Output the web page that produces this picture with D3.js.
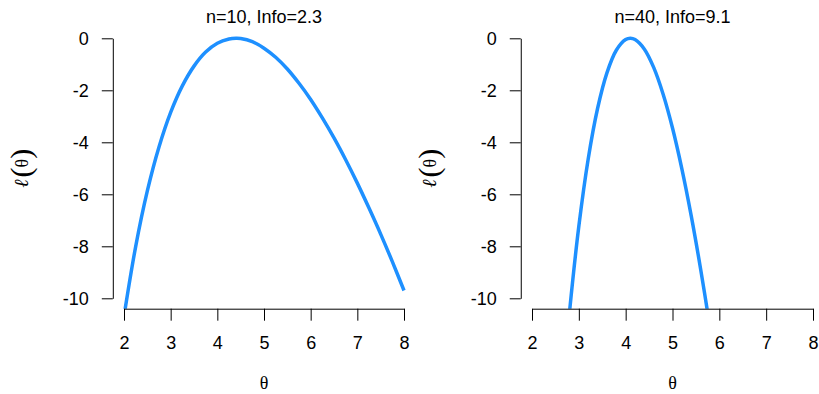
<!DOCTYPE html>
<html>
  <head>
    <meta charset="utf-8">
    <title>Log-likelihood</title>
    <script src="https://cdn.jsdelivr.net/npm/d3@7"></script>
    <style>
      body { margin: 0; background: #fff; }
      text { font-family: "Liberation Sans", Arial, Helvetica, sans-serif; }
      .greek { font-family: "Liberation Serif", "DejaVu Serif", serif; }
    </style>
  </head>

  <body>
    <div id="chart"></div>

    <script>
      // values
      var titles = ["n=10, Info=2.3", "n=40, Info=9.1"];
      var xTicks = [2, 3, 4, 5, 6, 7, 8];
      var yTicks = [0, -2, -4, -6, -8, -10];

      var theta10 = [2, 2.25, 2.5, 2.75, 3, 3.25, 3.5, 3.75, 4, 4.25, 4.4, 4.5, 4.75, 5, 5.25, 5.5, 5.75, 6, 6.25, 6.5, 6.75, 7, 7.25, 7.5, 7.75, 8];
      var loglik10 = [-10.69, -8.01, -5.87, -4.18, -2.85, -1.83, -1.07, -0.53, -0.19, -0.03, 0, -0.01, -0.13, -0.38, -0.73, -1.18, -1.73, -2.35, -3.06, -3.83, -4.67, -5.57, -6.53, -7.53, -8.59, -9.70];

      var theta40 = [2.7, 2.8, 3, 3.2, 3.4, 3.6, 3.8, 4, 4.1, 4.2, 4.4, 4.6, 4.8, 5, 5.2, 5.4, 5.6, 5.8];
      var loglik40 = [-12.51, -10.54, -7.23, -4.64, -2.70, -1.33, -0.46, -0.05, 0, -0.05, -0.42, -1.13, -2.15, -3.45, -5.02, -6.83, -8.87, -11.11];

      var width = 819, height = 394;
      var svg = d3.select("#chart")
        .append("svg")
          .attr("width", width)
          .attr("height", height);

      // panel placement (pixel range of the tick span)
      var panels = [
        { xs: theta10, ys: loglik10, title: titles[0], x0: 124, x1: 404 },
        { xs: theta40, ys: loglik40, title: titles[1], x0: 532, x1: 813 }
      ];

      panels.forEach(function(p, i) {
        var x = d3.scaleLinear().domain([2, 8]).range([p.x0, p.x1]);
        var y = d3.scaleLinear().domain([0, -10]).range([38.3, 298.3]);

        // R style plot region (4% extension)
        var left = x(1.76), right = x(8.24), top = y(0.4), bottom = y(-10.4);

        var g = svg.append("g");

        g.append("clipPath")
            .attr("id", "clip" + i)
          .append("rect")
            .attr("x", left)
            .attr("y", top)
            .attr("width", right - left)
            .attr("height", bottom - top);

        var line = d3.line()
          .x(function(d) { return x(d[0]); })
          .y(function(d) { return y(d[1]); })
          .curve(d3.curveCatmullRom);

        g.append("path")
          .datum(d3.zip(p.xs, p.ys))
          .attr("clip-path", "url(#clip" + i + ")")
          .attr("d", line)
          .attr("fill", "none")
          .attr("stroke", "#1E90FF")
          .attr("stroke-width", 3.5);

        // axes
        var xAxis = g.append("g")
          .attr("transform", "translate(0," + bottom + ")")
          .call(d3.axisBottom(x).tickValues(xTicks).tickFormat(d3.format("d"))
            .tickSize(12).tickSizeOuter(0).tickPadding(16));

        var yAxis = g.append("g")
          .attr("transform", "translate(" + left + ",0)")
          .call(d3.axisLeft(y).tickValues(yTicks).tickFormat(function(d) { return d === 0 ? "0" : "-" + Math.abs(d); })
            .tickSize(11).tickSizeOuter(0).tickPadding(13));

        [xAxis, yAxis].forEach(function(a) {
          a.selectAll("text")
            .attr("font-size", 18)
            .attr("fill", "#000")
            .style("font-family", "'Liberation Sans', Arial, sans-serif");
          a.selectAll("line, path").attr("stroke", "#000");
        });

        // title
        g.append("text")
          .attr("x", (left + right) / 2)
          .attr("y", 23)
          .attr("text-anchor", "middle")
          .attr("font-size", 18)
          .text(p.title);

        // axis labels
        g.append("text")
          .attr("class", "greek")
          .attr("x", (left + right) / 2)
          .attr("y", 389)
          .attr("text-anchor", "middle")
          .attr("font-size", 18)
          .text("θ");

        var yl = g.append("text")
          .attr("class", "greek")
          .attr("transform", "translate(" + (left - 85) + "," + ((top + bottom) / 2) + ") rotate(-90)")
          .attr("text-anchor", "middle")
          .attr("font-size", 20);
        yl.append("tspan").style("font-style", "italic").text("ℓ");
        yl.append("tspan").attr("font-size", 30).attr("dy", 3).attr("dx", 2).text("(");
        yl.append("tspan").attr("font-size", 18).attr("dy", -3).text("θ");
        yl.append("tspan").attr("font-size", 30).attr("dy", 3).text(")");
      });
    </script>
  </body>
</html>
